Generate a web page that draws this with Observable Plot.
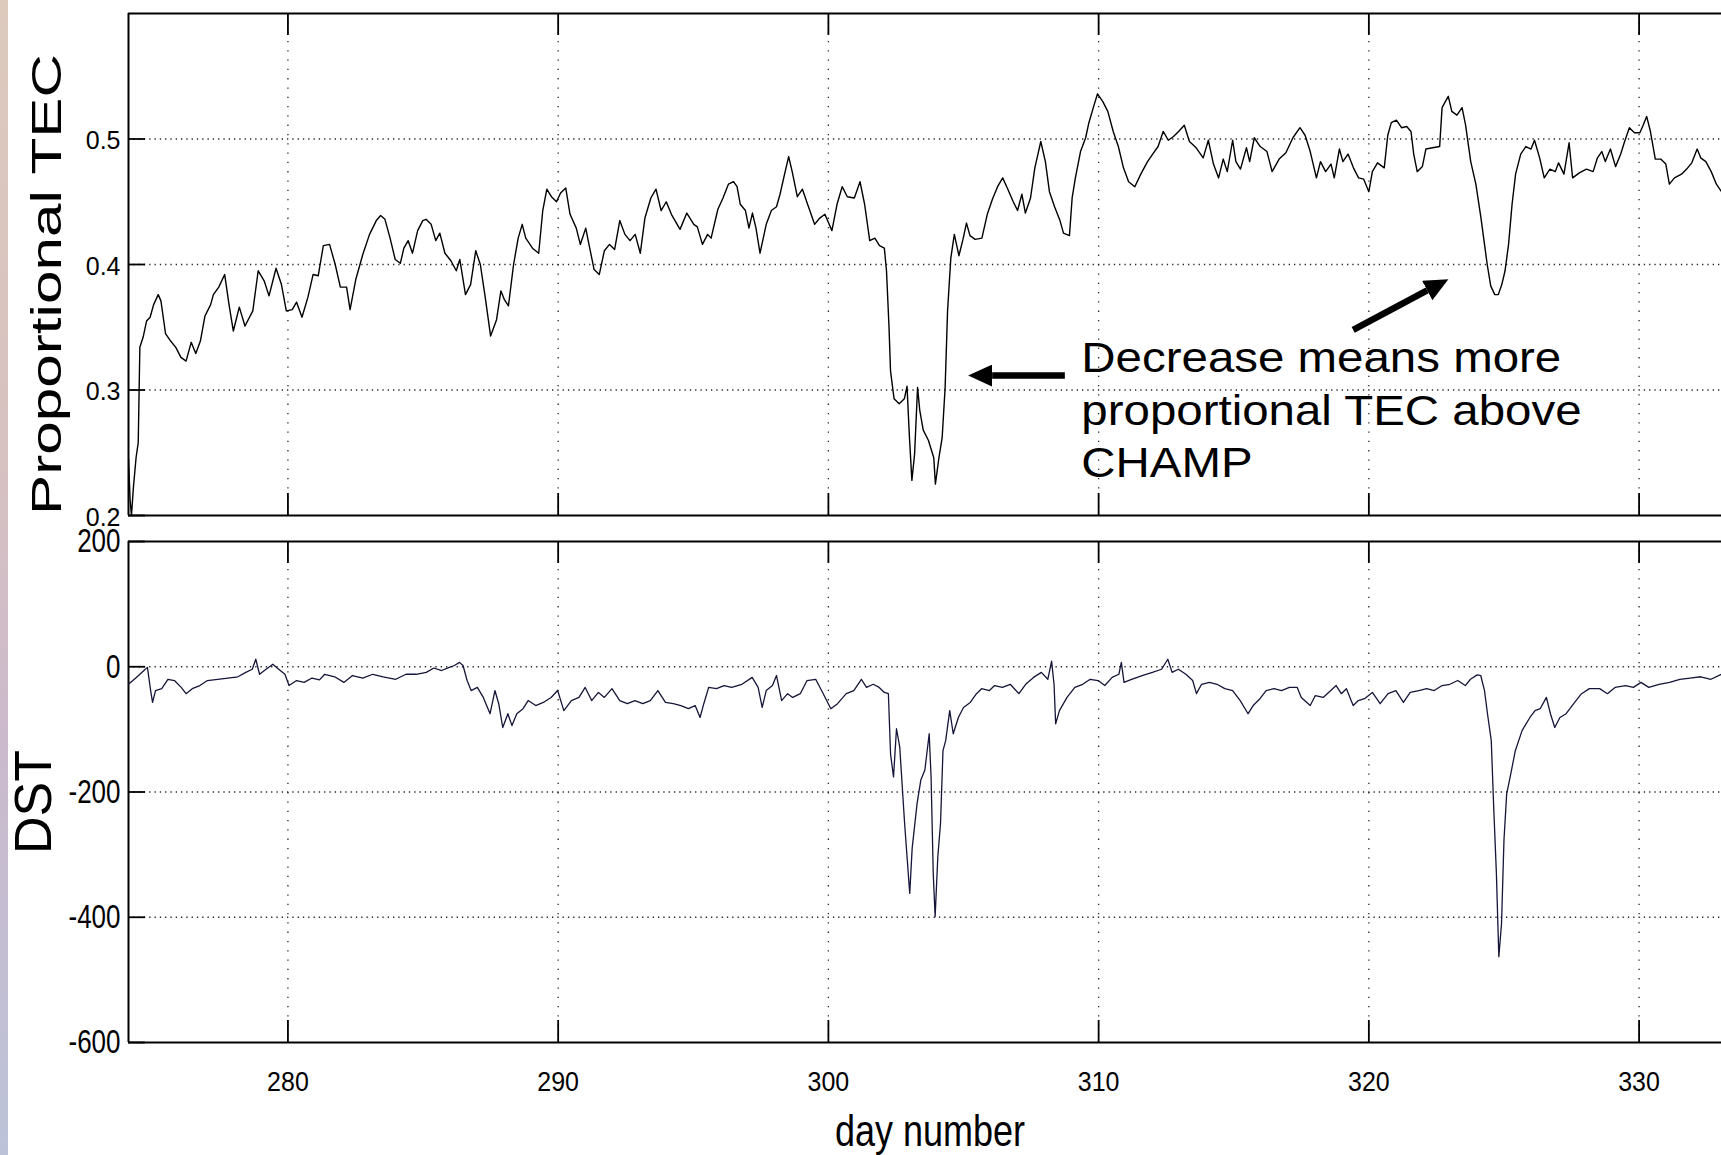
<!DOCTYPE html>
<html>
<head>
<meta charset="utf-8">
<script src="https://cdn.jsdelivr.net/npm/d3@7"></script>
<script src="https://cdn.jsdelivr.net/npm/@observablehq/plot@0.6"></script>
<style>
  html, body { margin: 0; padding: 0; background: #fff; overflow: hidden; }
  #wrap { position: relative; width: 1721px; height: 1155px; background: #fff; }
  #wrap svg { position: absolute; left: 0; top: 0; }
  #strip { position: absolute; left: 0; top: 0; width: 8px; height: 1155px; z-index: 5;
    background: linear-gradient(to bottom, #ddcabd 0%, #d7c1c1 40%, #cbbacd 65%, #bcc3d8 100%); }
</style>
</head>
<body>
<div id="wrap"><div id="strip"></div></div>
<script>
// ---------- data ----------
const dayTicks = [280, 290, 300, 310, 320, 330];
const tecTicks = [0.2, 0.3, 0.4, 0.5];
const tecGrid = [0.3, 0.4, 0.5];
const dstTicks = [-600, -400, -200, 0, 200];
const dstGrid = [-400, -200, 0];
const xDomain = [274.1, 333.05];
const tecDomain = [0.2, 0.6];
const dstDomain = [-600, 200];

const tecTitle = "Proportional TEC";
const dstTitle = "DST";
const xTitle = "day number";
const annotationText = "Decrease means more\nproportional TEC above\nCHAMP";
const annotationAt = [{day: 309.36, value: 0.2304, label: annotationText}];
const arrows = [
  {x1: 308.75, y1: 0.3115, x2: 306.06, y2: 0.3115},
  {x1: 319.42, y1: 0.3479, x2: 322.16, y2: 0.3793}
];

// Proportional TEC: [day, value]
const tecSeries = [[274.10,.245],[274.16,.212],[274.21,.200],[274.28,.222],[274.38,.246],[274.46,.258],[274.52,.334],[274.64,.342],[274.77,.355],[274.90,.358],[275.03,.368],[275.20,.376],[275.30,.371],[275.47,.345],[275.66,.339],[275.85,.334],[276.04,.326],[276.23,.323],[276.42,.338],[276.59,.329],[276.76,.339],[276.93,.359],[277.14,.368],[277.24,.376],[277.44,.382],[277.66,.392],[277.82,.368],[277.98,.347],[278.20,.366],[278.41,.351],[278.70,.363],[278.90,.395],[279.12,.387],[279.30,.375],[279.56,.397],[279.76,.384],[279.94,.363],[280.16,.364],[280.32,.370],[280.52,.358],[280.74,.374],[280.93,.392],[281.12,.391],[281.31,.415],[281.54,.416],[281.75,.400],[281.94,.382],[282.17,.382],[282.30,.364],[282.51,.388],[282.77,.408],[283.02,.424],[283.27,.435],[283.43,.439],[283.59,.436],[283.78,.421],[283.97,.404],[284.16,.401],[284.29,.413],[284.45,.419],[284.61,.409],[284.80,.427],[284.99,.435],[285.11,.436],[285.30,.432],[285.47,.419],[285.62,.425],[285.81,.409],[286.03,.403],[286.23,.395],[286.36,.404],[286.57,.376],[286.76,.384],[286.95,.411],[287.12,.400],[287.30,.374],[287.50,.343],[287.72,.356],[287.88,.379],[288.01,.372],[288.16,.367],[288.35,.400],[288.52,.421],[288.67,.432],[288.80,.421],[289.05,.413],[289.28,.409],[289.43,.443],[289.58,.460],[289.75,.454],[289.94,.450],[290.09,.457],[290.28,.461],[290.44,.440],[290.67,.429],[290.82,.416],[291.02,.429],[291.14,.416],[291.33,.396],[291.52,.392],[291.71,.411],[291.90,.416],[292.09,.412],[292.28,.435],[292.47,.424],[292.66,.419],[292.85,.424],[293.04,.409],[293.21,.437],[293.43,.453],[293.62,.460],[293.81,.443],[294.00,.450],[294.19,.440],[294.51,.428],[294.76,.441],[295.02,.432],[295.15,.430],[295.34,.416],[295.53,.424],[295.66,.421],[295.91,.444],[296.10,.453],[296.30,.464],[296.49,.466],[296.62,.462],[296.74,.448],[296.93,.443],[297.06,.429],[297.19,.441],[297.32,.429],[297.47,.409],[297.70,.432],[297.89,.443],[298.08,.446],[298.21,.456],[298.40,.474],[298.53,.486],[298.66,.474],[298.85,.454],[299.04,.460],[299.23,.448],[299.49,.432],[299.68,.437],[299.87,.440],[300.13,.427],[300.32,.448],[300.51,.462],[300.70,.454],[300.96,.453],[301.17,.466],[301.34,.448],[301.53,.419],[301.72,.421],[301.89,.415],[302.07,.413],[302.15,.395],[302.24,.352],[302.30,.315],[302.43,.293],[302.62,.289],[302.81,.293],[302.91,.303],[303.00,.262],[303.09,.228],[303.19,.249],[303.30,.302],[303.38,.284],[303.51,.268],[303.70,.260],[303.90,.246],[303.96,.225],[304.09,.246],[304.21,.262],[304.32,.302],[304.41,.363],[304.53,.405],[304.66,.424],[304.83,.407],[304.98,.420],[305.11,.433],[305.24,.423],[305.43,.420],[305.68,.421],[305.88,.440],[306.07,.452],[306.26,.462],[306.45,.469],[306.64,.460],[306.84,.450],[307.00,.443],[307.16,.456],[307.29,.441],[307.48,.453],[307.64,.477],[307.86,.498],[308.03,.482],[308.18,.458],[308.37,.446],[308.57,.435],[308.70,.425],[308.92,.423],[309.02,.453],[309.14,.469],[309.33,.490],[309.52,.501],[309.64,.513],[309.83,.527],[309.96,.536],[310.15,.530],[310.34,.522],[310.54,.506],[310.73,.494],[310.92,.477],[311.11,.466],[311.34,.462],[311.56,.472],[311.81,.482],[312.00,.488],[312.20,.494],[312.39,.506],[312.58,.499],[312.77,.502],[312.96,.506],[313.17,.511],[313.36,.498],[313.61,.493],[313.87,.485],[314.06,.499],[314.25,.480],[314.44,.469],[314.61,.484],[314.76,.474],[314.96,.499],[315.08,.482],[315.25,.476],[315.47,.493],[315.59,.482],[315.76,.501],[315.98,.494],[316.23,.490],[316.42,.474],[316.68,.484],[316.93,.489],[317.19,.501],[317.45,.509],[317.64,.503],[317.83,.490],[318.06,.469],[318.21,.482],[318.40,.474],[318.60,.480],[318.72,.469],[318.91,.492],[319.04,.482],[319.23,.488],[319.43,.477],[319.62,.469],[319.81,.468],[320.00,.458],[320.13,.474],[320.32,.481],[320.57,.477],[320.70,.503],[320.83,.513],[321.02,.515],[321.21,.509],[321.40,.510],[321.56,.506],[321.66,.488],[321.79,.474],[321.98,.478],[322.11,.492],[322.36,.493],[322.62,.494],[322.71,.525],[322.81,.529],[322.94,.534],[323.07,.522],[323.26,.519],[323.45,.525],[323.58,.511],[323.77,.482],[323.96,.464],[324.15,.437],[324.28,.416],[324.38,.400],[324.51,.383],[324.66,.376],[324.79,.376],[324.92,.384],[325.04,.395],[325.17,.416],[325.30,.448],[325.43,.472],[325.62,.488],[325.81,.494],[326.00,.492],[326.13,.499],[326.32,.485],[326.49,.469],[326.70,.476],[326.90,.474],[327.02,.481],[327.22,.472],[327.41,.497],[327.54,.469],[327.79,.473],[328.05,.476],[328.30,.474],[328.46,.485],[328.62,.490],[328.75,.482],[328.94,.492],[329.13,.478],[329.32,.488],[329.45,.497],[329.64,.509],[329.83,.505],[330.03,.505],[330.15,.511],[330.28,.518],[330.41,.507],[330.60,.484],[330.80,.484],[330.99,.480],[331.12,.464],[331.31,.469],[331.57,.472],[331.76,.476],[331.95,.481],[332.15,.492],[332.28,.485],[332.47,.482],[332.67,.474],[332.86,.464],[333.05,.458]];

// DST: [day, nT]
const dstSeries = [[274.10,-28],[274.39,-17],[274.67,-6],[274.80,-1],[274.92,-38],[274.99,-57],[275.10,-38],[275.33,-35],[275.56,-20],[275.80,-22],[276.05,-33],[276.23,-43],[276.46,-35],[276.74,-30],[277.02,-22],[277.40,-20],[277.78,-18],[278.15,-16],[278.44,-9],[278.68,-4],[278.81,12],[278.95,-12],[279.19,-4],[279.44,4],[279.66,-4],[279.89,-12],[280.04,-30],[280.32,-22],[280.60,-25],[280.89,-18],[281.17,-21],[281.36,-12],[281.73,-16],[282.07,-25],[282.39,-14],[282.77,-18],[283.14,-12],[283.52,-16],[283.99,-20],[284.37,-12],[284.75,-12],[285.12,-9],[285.40,-2],[285.69,-6],[285.97,-1],[286.16,2],[286.35,7],[286.48,2],[286.63,-22],[286.78,-38],[287.01,-33],[287.23,-49],[287.48,-75],[287.66,-38],[287.80,-59],[287.95,-97],[288.14,-75],[288.29,-94],[288.47,-75],[288.70,-67],[288.89,-54],[289.17,-62],[289.45,-57],[289.74,-49],[289.98,-38],[290.21,-70],[290.49,-54],[290.77,-49],[291.00,-33],[291.24,-54],[291.49,-41],[291.71,-49],[291.99,-35],[292.28,-54],[292.56,-59],[292.84,-54],[293.13,-59],[293.41,-54],[293.69,-38],[293.97,-57],[294.26,-59],[294.54,-62],[294.82,-67],[295.07,-62],[295.25,-81],[295.39,-59],[295.57,-33],[295.86,-35],[296.14,-30],[296.42,-33],[296.80,-28],[297.18,-17],[297.40,-33],[297.55,-65],[297.70,-38],[297.93,-30],[298.08,-14],[298.27,-54],[298.49,-43],[298.68,-49],[298.96,-43],[299.21,-22],[299.53,-20],[299.81,-43],[300.09,-67],[300.34,-59],[300.66,-43],[300.94,-38],[301.22,-20],[301.41,-33],[301.66,-28],[301.88,-33],[302.07,-41],[302.22,-43],[302.30,-139],[302.41,-176],[302.52,-99],[302.64,-128],[302.82,-250],[303.01,-362],[303.10,-290],[303.28,-219],[303.42,-181],[303.57,-165],[303.73,-107],[303.80,-176],[303.88,-330],[303.95,-399],[304.05,-303],[304.15,-250],[304.24,-134],[304.34,-118],[304.49,-70],[304.62,-107],[304.81,-81],[305.00,-65],[305.25,-57],[305.48,-43],[305.67,-35],[305.96,-38],[306.15,-30],[306.44,-33],[306.73,-28],[307.05,-43],[307.30,-28],[307.59,-17],[307.88,-9],[308.12,-20],[308.26,9],[308.35,-28],[308.41,-91],[308.55,-70],[308.83,-49],[309.12,-33],[309.41,-28],[309.69,-20],[309.98,-22],[310.23,-30],[310.50,-17],[310.75,-12],[310.84,7],[310.94,-25],[311.22,-20],[311.61,-14],[311.99,-9],[312.33,-4],[312.56,12],[312.72,-9],[312.95,-4],[313.23,-12],[313.48,-22],[313.62,-43],[313.81,-28],[314.10,-25],[314.38,-28],[314.67,-35],[314.96,-38],[315.24,-54],[315.53,-75],[315.72,-62],[315.97,-51],[316.20,-38],[316.49,-35],[316.77,-38],[317.06,-33],[317.35,-33],[317.50,-49],[317.83,-62],[318.02,-46],[318.31,-49],[318.59,-38],[318.79,-30],[318.98,-43],[319.17,-35],[319.42,-62],[319.61,-54],[319.84,-51],[320.13,-41],[320.42,-59],[320.71,-43],[321.00,-38],[321.28,-57],[321.53,-41],[321.85,-38],[322.14,-35],[322.42,-38],[322.71,-30],[323.00,-28],[323.29,-22],[323.57,-30],[323.76,-20],[324.01,-13],[324.14,-14],[324.28,-38],[324.39,-75],[324.53,-118],[324.62,-224],[324.72,-330],[324.81,-463],[324.91,-410],[325.00,-277],[325.10,-203],[325.23,-176],[325.42,-134],[325.67,-102],[325.96,-81],[326.15,-70],[326.34,-67],[326.57,-49],[326.72,-75],[326.88,-97],[327.07,-81],[327.30,-75],[327.58,-59],[327.87,-43],[328.16,-35],[328.54,-35],[328.83,-43],[329.11,-33],[329.50,-30],[329.79,-33],[330.07,-25],[330.36,-33],[330.74,-28],[331.13,-25],[331.51,-20],[331.89,-18],[332.28,-16],[332.66,-20],[333.05,-12]];

// ---------- layout ----------
const FONT = "'Liberation Sans', Arial, Helvetica, sans-serif";
const W = 1721, H = 1155, ML = 128;
const upperM = {top: 13, bottom: 640};
const lowerM = {top: 541, bottom: 113};
const plotW = W - ML;
const upperH = H - upperM.top - upperM.bottom;
const lowerH = H - lowerM.top - lowerM.bottom;
const X_TICK = 22, Y_TICK = 17;
const gridV = {stroke: "#262626", strokeWidth: 1.3, strokeDasharray: "1.3,8"};
const gridH = {stroke: "#262626", strokeWidth: 1.3, strokeDasharray: "1.3,4"};
const axisInk = {stroke: "#000", strokeWidth: 1.8};
const frameInk = {stroke: "#000", strokeWidth: 2};
const baseStyle = {background: "transparent", fontFamily: FONT, color: "#000", overflow: "visible"};

const tecData = tecSeries.map(([day, value]) => ({day, value}));
const dstData = dstSeries.map(([day, value]) => ({day, value}));

const upper = Plot.plot({
  width: W, height: H, marginLeft: ML, marginRight: 0,
  marginTop: upperM.top, marginBottom: upperM.bottom,
  style: baseStyle,
  x: {domain: xDomain, axis: null},
  y: {domain: tecDomain, axis: null},
  marks: [
    Plot.ruleX(dayTicks, {x: d => d, ...gridV}),
    Plot.ruleY(tecGrid, {y: d => d, ...gridH}),
    Plot.tickX(dayTicks, {x: d => d, insetTop: upperH - X_TICK, ...axisInk}),
    Plot.tickX(dayTicks, {x: d => d, insetBottom: upperH - X_TICK, ...axisInk}),
    Plot.tickY(tecTicks, {y: d => d, insetRight: plotW - Y_TICK, ...axisInk}),
    Plot.ruleY(tecDomain, {y: d => d, ...frameInk}),
    Plot.ruleX([xDomain[0]], {x: d => d, ...frameInk}),
    Plot.line(tecData, {x: "day", y: "value", stroke: "#000", strokeWidth: 1.4, clip: true}),
    Plot.text(tecTicks, {y: d => d, text: d => String(d), frameAnchor: "left", textAnchor: "end", dx: -8, dy: 2, fontSize: 25, fill: "#000"}),
    Plot.text([tecTitle], {text: d => d, frameAnchor: "left", textAnchor: "middle", rotate: -90, lineAnchor: "bottom", dx: 60 - ML, dy: 20, fontSize: 42, fill: "#000"}),
    Plot.link(arrows, {x1: "x1", y1: "y1", x2: "x2", y2: "y2", stroke: "#000", strokeWidth: 6.5}),
    Plot.text(annotationAt, {x: "day", y: "value", text: "label", textAnchor: "start", lineAnchor: "bottom", lineHeight: 1.25, fontSize: 42, fill: "#000"})
  ]
});

const lower = Plot.plot({
  width: W, height: H, marginLeft: ML, marginRight: 0,
  marginTop: lowerM.top, marginBottom: lowerM.bottom,
  style: baseStyle,
  x: {domain: xDomain, axis: null},
  y: {domain: dstDomain, axis: null},
  marks: [
    Plot.ruleX(dayTicks, {x: d => d, ...gridV}),
    Plot.ruleY(dstGrid, {y: d => d, ...gridH}),
    Plot.tickX(dayTicks, {x: d => d, insetTop: lowerH - X_TICK, ...axisInk}),
    Plot.tickX(dayTicks, {x: d => d, insetBottom: lowerH - X_TICK, ...axisInk}),
    Plot.tickY(dstTicks, {y: d => d, insetRight: plotW - Y_TICK, ...axisInk}),
    Plot.ruleY(dstDomain, {y: d => d, ...frameInk}),
    Plot.ruleX([xDomain[0]], {x: d => d, ...frameInk}),
    Plot.line(dstData, {x: "day", y: "value", stroke: "#15153a", strokeWidth: 1.3, clip: true}),
    Plot.text(dstTicks, {y: d => d, text: d => String(d), frameAnchor: "left", textAnchor: "end", dx: -8, fontSize: 26, fill: "#000"}),
    Plot.text(dayTicks, {x: d => d, text: d => String(d), frameAnchor: "bottom", textAnchor: "middle", lineAnchor: "bottom", dy: 48, fontSize: 25, fill: "#000"}),
    Plot.text([xTitle], {text: d => d, frameAnchor: "bottom", textAnchor: "middle", lineAnchor: "bottom", dx: 5, dy: 103, fontSize: 36, fill: "#000"}),
    Plot.text([dstTitle], {text: d => d, frameAnchor: "left", textAnchor: "middle", rotate: -90, lineAnchor: "bottom", dx: 50 - ML, dy: 10, fontSize: 52, fill: "#000"})
  ]
});

const wrap = document.getElementById("wrap");
wrap.insertBefore(upper, wrap.firstChild);
wrap.insertBefore(lower, upper.nextSibling);

// arrow heads (filled) for the annotation arrows
const us = d3.select(upper);
us.append("defs").append("marker")
  .attr("id", "ahead").attr("markerUnits", "userSpaceOnUse")
  .attr("markerWidth", 24).attr("markerHeight", 22).attr("viewBox", "0 0 24 22")
  .attr("refX", 0).attr("refY", 11).attr("orient", "auto")
  .append("path").attr("d", "M0,0L24,11L0,22Z").attr("fill", "#000");
us.selectAll('g[aria-label="link"] path').attr("marker-end", "url(#ahead)");

// glyph stretching to mimic the resized figure
function stretch(el, sx, sy) {
  const t = el.getAttribute("transform") || "";
  el.setAttribute("transform", `${t} scale(${sx},${sy})`);
}
const dstLabels = new Set(dstTicks.map(String));
const dayLabels = new Set(dayTicks.map(String));
d3.select(lower).selectAll("text").each(function () {
  const s = this.textContent;
  if (dstLabels.has(s)) stretch(this, 1, 1.3);
  else if (dayLabels.has(s)) stretch(this, 1, 1.12);
  else if (s === xTitle) stretch(this, 1, 1.25);
});
us.selectAll("text").each(function () {
  const s = this.textContent;
  if (s === tecTitle) {
    const len = this.getComputedTextLength();
    stretch(this, 461 / len, 1);
  } else if (s.startsWith("Decrease")) {
    stretch(this, 1.13, 1);
  }
});
</script>
</body>
</html>
